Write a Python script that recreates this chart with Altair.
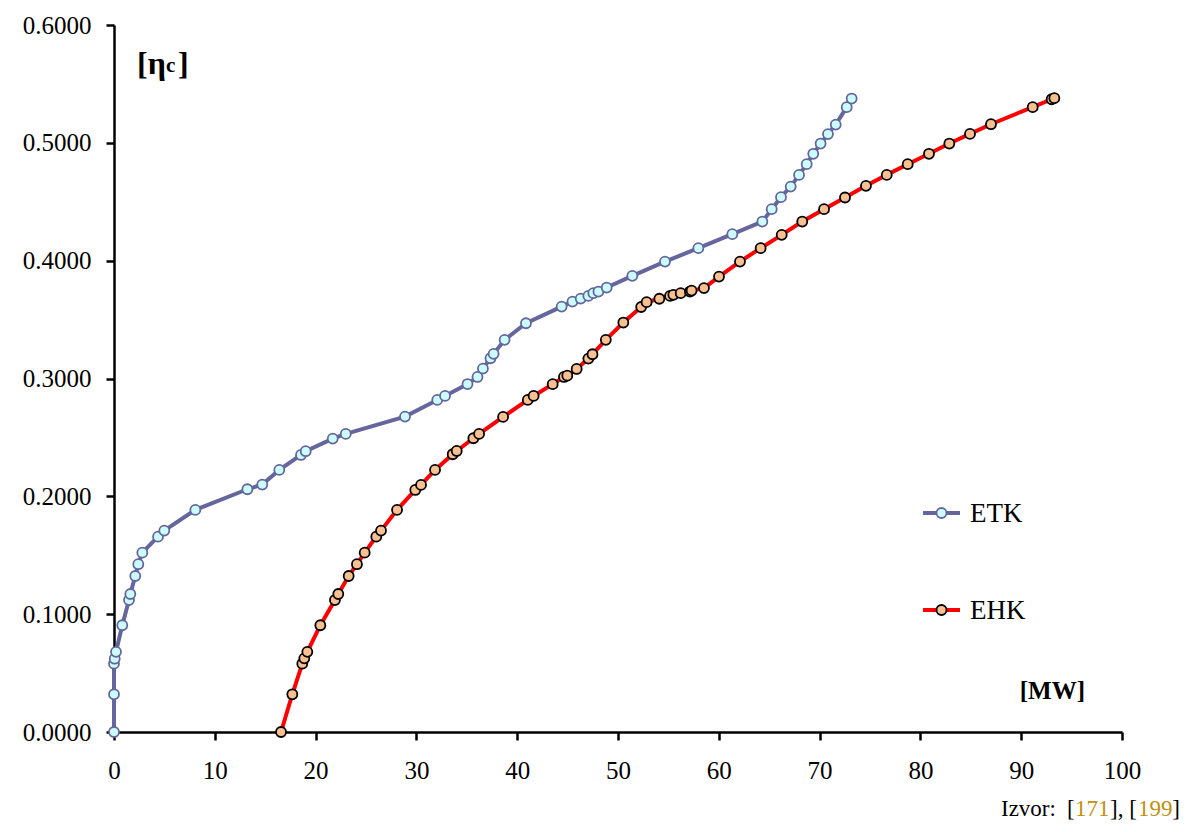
import altair as alt
import pandas as pd

# ETK series
etk_x = [0, 0, 0, 0.07, 0.2, 0.82, 1.49, 1.62, 2.11, 2.41, 2.81, 4.37, 4.99, 8.07,
         13.23, 14.71, 16.4, 18.55, 19.02, 21.7, 22.99, 28.87, 32.07, 32.84, 35.07,
         36.06, 36.6, 37.35, 37.66, 38.75, 40.87, 44.41, 45.48, 46.3, 47.06, 47.55,
         48.06, 48.88, 51.42, 54.66, 57.97, 61.34, 64.32, 65.25, 66.17, 67.13, 67.96,
         68.72, 69.37, 70.1, 70.83, 71.6, 72.69, 73.18]
etk_y = [0.0, 0.032, 0.058, 0.0622, 0.068, 0.0906, 0.112, 0.1171, 0.1324, 0.1424,
         0.1522, 0.1658, 0.1709, 0.1885, 0.206, 0.21, 0.2224, 0.2351, 0.2383, 0.249,
         0.253, 0.2677, 0.2818, 0.2852, 0.2953, 0.3013, 0.3084, 0.3172, 0.3209, 0.3328,
         0.3469, 0.361, 0.3653, 0.3678, 0.3701, 0.3724, 0.3738, 0.3772, 0.3871, 0.3992,
         0.4106, 0.4225, 0.4332, 0.4437, 0.4539, 0.4629, 0.4728, 0.4819, 0.4907, 0.4994,
         0.5074, 0.5155, 0.5303, 0.5376]

# EHK series
ehk_x = [16.57, 17.69, 18.68, 18.88, 19.18, 20.47, 21.92, 22.25, 23.28, 24.1, 24.87,
         26.02, 26.49, 28.08, 29.89, 30.46, 31.85, 33.6, 34.0, 35.65, 36.22, 38.6,
         41.05, 41.63, 43.52, 44.64, 44.97, 45.9, 47.06, 47.47, 48.79, 50.53, 52.3,
         52.84, 54.1, 55.16, 55.49, 56.22, 57.14, 57.3, 58.53, 60.02, 62.1, 64.15,
         66.24, 68.28, 70.44, 72.52, 74.6, 76.66, 78.74, 80.85, 82.87, 84.92, 87.0,
         91.14, 93.02, 93.29]
ehk_y = [0.0, 0.032, 0.058, 0.0625, 0.068, 0.0906, 0.112, 0.1171, 0.1324, 0.1424,
         0.1522, 0.1658, 0.1709, 0.1885, 0.2054, 0.2097, 0.2224, 0.2357, 0.2385,
         0.2493, 0.253, 0.2674, 0.2818, 0.2852, 0.2952, 0.3013, 0.3024, 0.3081,
         0.3169, 0.3206, 0.3328, 0.3475, 0.3607, 0.3648, 0.3677, 0.3701, 0.371,
         0.3724, 0.3738, 0.3746, 0.3767, 0.3865, 0.3992, 0.4106, 0.4219, 0.4332,
         0.4437, 0.4536, 0.4635, 0.4728, 0.4819, 0.4907, 0.4994, 0.5076, 0.5158,
         0.5303, 0.537, 0.5379]

series_names = ["ETK", "EHK"]
line_colors = ["#66669e", "#ff0000"]
fill_colors = ["#ccffff", "#fac090"]
stroke_colors = ["#66669e", "#000000"]

FONT = "Liberation Serif"

rows = []
for i, (x, y) in enumerate(zip(etk_x, etk_y)):
    rows.append({"s": "ETK", "x": x, "y": y, "o": i})
for i, (x, y) in enumerate(zip(ehk_x, ehk_y)):
    rows.append({"s": "EHK", "x": x, "y": y, "o": i})
df = pd.DataFrame(rows)

xs = alt.Scale(domain=[0, 100], nice=False, zero=False)
ys = alt.Scale(domain=[0, 0.6], nice=False)

xaxis = alt.Axis(values=list(range(0, 101, 10)), grid=False, title=None,
                 domainColor="black", domainWidth=2.5, tickColor="black", tickWidth=2.5,
                 tickSize=8, labelFont=FONT, labelFontSize=25, labelColor="black",
                 labelPadding=18, labelFlush=False)
yaxis = alt.Axis(values=[0, 0.1, 0.2, 0.3, 0.4, 0.5, 0.6], format=".4f", grid=False,
                 title=None, domainColor="black", domainWidth=2.5, tickColor="black",
                 tickWidth=2.5, tickSize=8, labelFont=FONT, labelFontSize=25,
                 labelColor="black", labelPadding=15)

lines = []
points = []
for name, lc, fc, sc in zip(series_names, line_colors, fill_colors, stroke_colors):
    d = df[df.s == name]
    lines.append(alt.Chart(d).mark_line(color=lc, strokeWidth=4).encode(
        x=alt.X("x:Q", scale=xs, axis=xaxis),
        y=alt.Y("y:Q", scale=ys, axis=yaxis),
        order="o:Q"))
    points.append(alt.Chart(d).mark_point(shape="circle", filled=True, fill=fc, stroke=sc,
                                          strokeWidth=1.8, size=100, opacity=1).encode(
        x=alt.X("x:Q", scale=xs), y=alt.Y("y:Q", scale=ys)))

# legend
leg_y = [488, 585]
legend_layers = []
for name, lc, fc, sc, ly in zip(series_names, line_colors, fill_colors, stroke_colors, leg_y):
    legend_layers.append(alt.Chart(pd.DataFrame({"s": [name]})).mark_rule(color=lc, strokeWidth=4).encode(
        x=alt.value(809), x2=alt.value(846), y=alt.value(ly)))
    legend_layers.append(alt.Chart(pd.DataFrame({"s": [name]})).mark_point(
        shape="circle", filled=True, fill=fc, stroke=sc, strokeWidth=1.8, size=100, opacity=1).encode(
        x=alt.value(827.5), y=alt.value(ly)))
    legend_layers.append(alt.Chart(pd.DataFrame({"s": [name]})).mark_text(
        font=FONT, fontSize=27, align="left", baseline="middle", color="black").encode(
        x=alt.value(856), y=alt.value(ly + 1), text="s:N"))

def txt(t, x, y, size, bold=False, color="black", align="left", baseline="alphabetic"):
    return alt.Chart(pd.DataFrame({"t": [t]})).mark_text(
        font=FONT, fontSize=size, fontWeight="bold" if bold else "normal",
        align=align, baseline=baseline, color=color).encode(
        x=alt.value(x), y=alt.value(y), text="t:N")

labels = [
    txt("[MW]", 971, 674, 25, bold=True, align="right"),
    txt("[η", 23, 49, 32, bold=True),
    txt("c", 52, 47, 21, bold=True),
    txt("]", 64, 49, 32, bold=True),
    txt("Izvor:", 887, 791, 23),
    txt("[", 953, 791, 23),
    txt("171", 961, 791, 23, color="#c09010"),
    txt("], [", 996, 791, 23),
    txt("199", 1024, 791, 23, color="#c09010"),
    txt("]", 1066, 791, 23, align="right"),
]

chart = alt.layer(*lines, *points, *legend_layers, *labels).properties(
    width=1008, height=707,
    autosize=alt.AutoSizeParams(type="none"),
    padding={"left": 106, "top": 17, "right": 58, "bottom": 92},
    background="white",
).configure_view(stroke=None)

chart.save("out.html", embed_options={"renderer": "svg", "actions": False})
